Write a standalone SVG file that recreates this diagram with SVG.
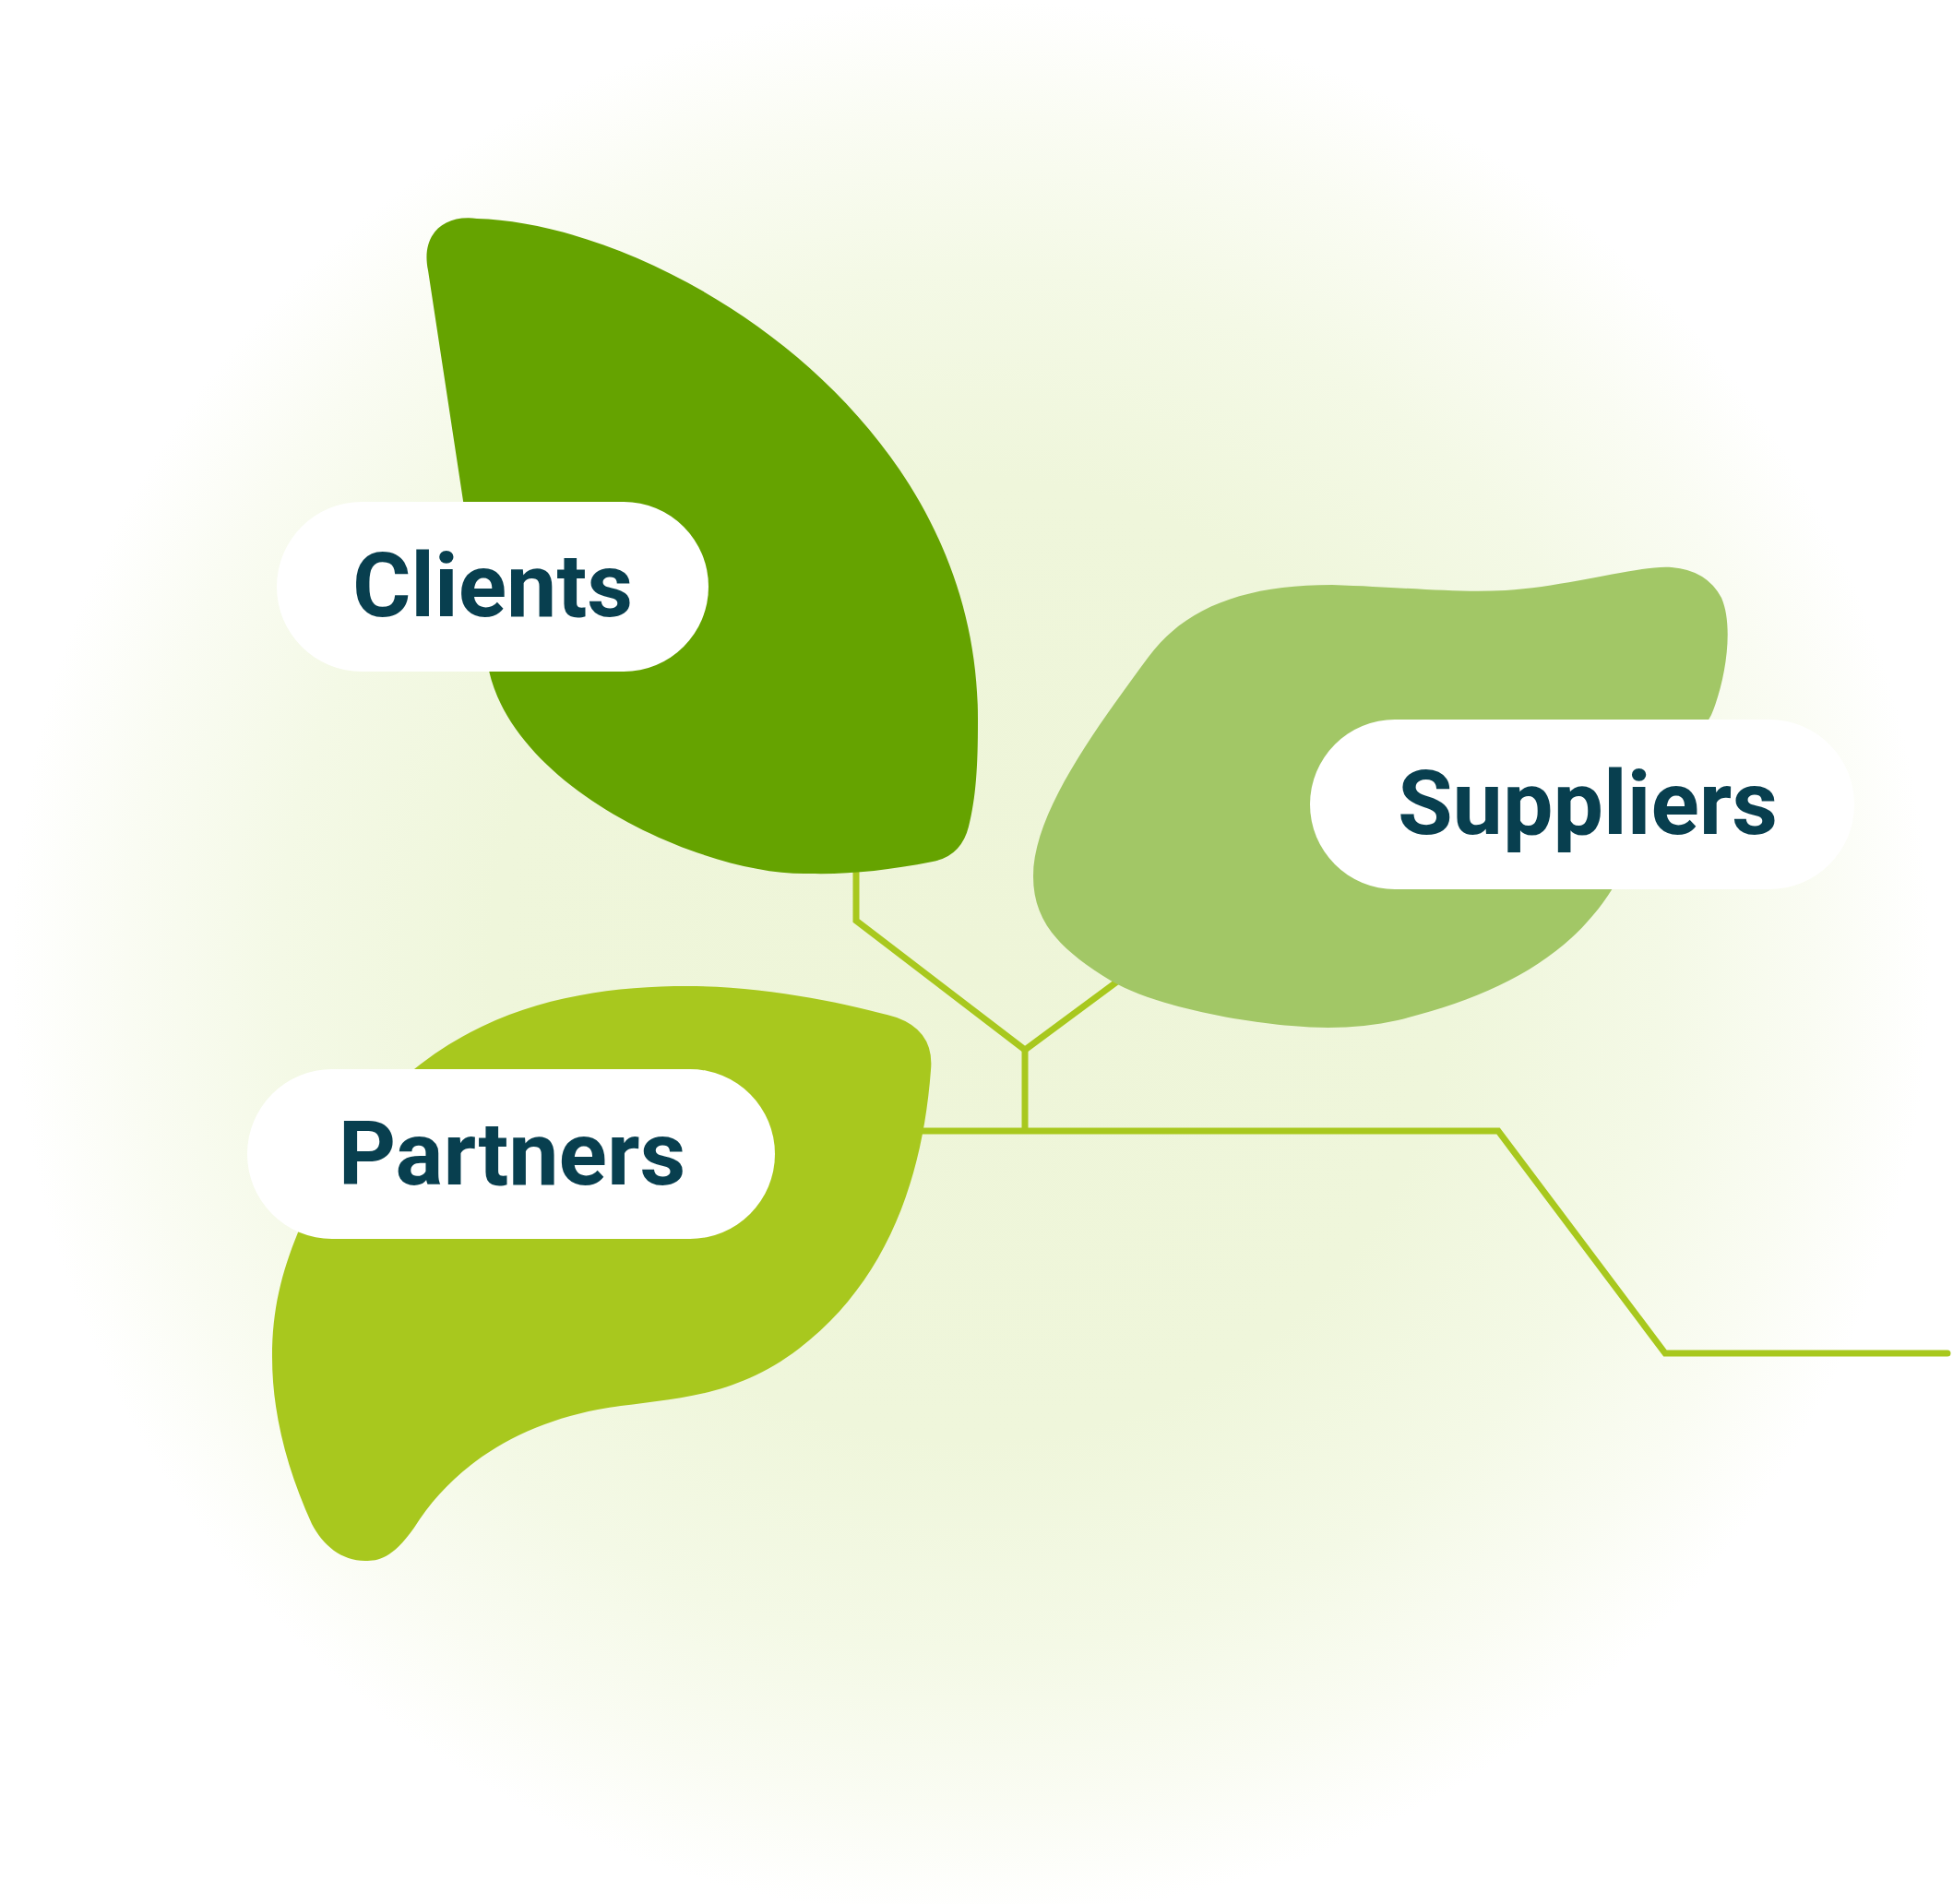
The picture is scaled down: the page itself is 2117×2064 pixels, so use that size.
<svg xmlns="http://www.w3.org/2000/svg" width="2117" height="2064" viewBox="0 0 2117 2064">
<defs>
<radialGradient id="bg" cx="1053" cy="1040" r="1040" gradientUnits="userSpaceOnUse">
<stop offset="0" stop-color="#eef5d8"/>
<stop offset="0.5" stop-color="#eff6db"/>
<stop offset="0.72" stop-color="#f4f9e6"/>
<stop offset="0.88" stop-color="#fafcf3"/>
<stop offset="1" stop-color="#ffffff"/>
</radialGradient>
<style>
.pill{fill:#ffffff}
.label{font-family:Roboto,"Liberation Sans",sans-serif;font-weight:700;font-size:97px;fill:#083f4f;text-anchor:middle}
.conn{fill:none;stroke:#a8c81e;stroke-width:7;stroke-linejoin:miter;stroke-linecap:butt}
.end{stroke-linecap:round}
</style>
</defs>
<rect width="2117" height="2064" fill="#ffffff"/>
<rect width="2117" height="2064" fill="url(#bg)"/>
<g id="connectors">
<path class="conn" d="M928,930 V998 L1111,1138 L1230,1050"/>
<path class="conn" d="M1111,1138 V1226"/>
<path class="conn end" d="M990,1226 H1624 L1805,1467 H2111"/>
</g>
<g id="clients">
<path fill="#65a300" d="M517,237 C710,242 1062,445 1060,782 C1060,830 1058,865 1050,896 Q1042,928 1011,934 C960,944 920,948 877,947 C770,950 560,860 530,727 L464,293 C456,255 480,232 517,237 Z"/>
<rect class="pill" x="300" y="544" width="468" height="184" rx="92"/>
<text class="label" x="534" y="668">Clients</text>
</g>
<g id="suppliers">
<path fill="#a2c766" d="M1204,1063 C1150,1030 1120,1000 1120,950 C1120,880 1190,787 1245,712 C1285,658 1350,634 1444,634 C1530,637 1580,643 1632,640 C1700,636 1780,612 1812,615 Q1850,618 1866,648 C1880,680 1870,740 1855,775 L1748,963 C1700,1040 1620,1080 1515,1106 C1480,1114 1440,1116 1400,1112 C1340,1107 1250,1090 1204,1063 Z"/>
<rect class="pill" x="1420" y="780" width="590" height="184" rx="92"/>
<text class="label" x="1721" y="904">Suppliers</text>
</g>
<g id="partners">
<path fill="#a8c81e" d="M449,1159 C540,1085 650,1069 745,1069 C830,1069 920,1088 972,1103 Q1013,1118 1009,1160 C1000,1280 960,1390 866,1462 C790,1520 720,1515 648,1528 C560,1545 490,1590 449,1656 C425,1690 410,1692 396,1692 C370,1692 350,1675 338,1652 C310,1590 295,1530 295,1471 C295,1420 305,1380 323,1336 Z"/>
<rect class="pill" x="268" y="1159" width="572" height="184" rx="92"/>
<text class="label" x="555" y="1284">Partners</text>
</g>
</svg>
